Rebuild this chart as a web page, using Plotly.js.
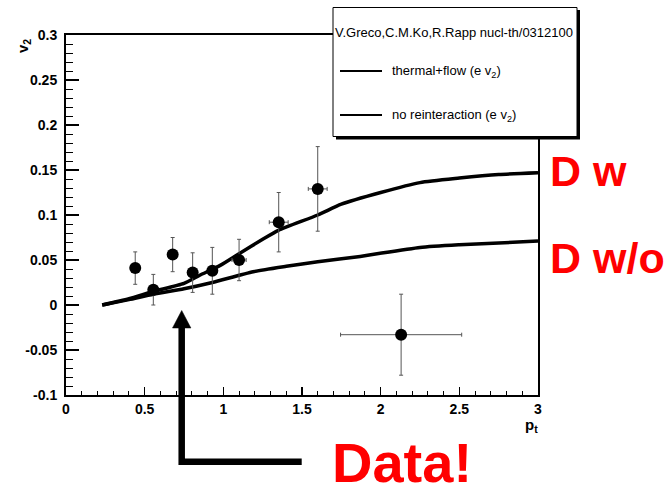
<!DOCTYPE html>
<html>
<head>
<meta charset="utf-8">
<script src="https://cdn.plot.ly/plotly-3.0.1.min.js"></script>
<style>html,body{margin:0;padding:0;background:#fff;}#chart{width:671px;height:491px;}</style>
</head>
<body>
<div id="chart"></div>
<script>
// ---- data ----
const dataPt = [0.44, 0.555, 0.678, 0.805, 0.93, 1.10, 1.352, 1.60, 2.13];
const dataV2 = [0.041, 0.017, 0.056, 0.036, 0.038, 0.050, 0.092, 0.129, -0.033];
const dataErrY = [0.018, 0.017, 0.019, 0.022, 0.026, 0.023, 0.033, 0.047, 0.045];
const dataErrX = [0, 0, 0, 0, 0, 0.045, 0.06, 0.06, 0.385];

const flowPt = [0.23, 0.40, 0.555, 0.75, 0.85, 0.98, 1.10, 1.25, 1.35, 1.60, 1.75, 2.00, 2.25, 2.50, 2.75, 3.00];
const flowV2 = [0.0, 0.007, 0.015, 0.024, 0.033, 0.044, 0.057, 0.073, 0.083, 0.100, 0.112, 0.125, 0.136, 0.141, 0.145, 0.147];

const noreintPt = [0.23, 0.40, 0.555, 0.75, 0.93, 1.19, 1.40, 1.60, 1.87, 2.25, 2.50, 3.00];
const noreintV2 = [0.0, 0.006, 0.012, 0.018, 0.025, 0.037, 0.043, 0.048, 0.054, 0.064, 0.067, 0.071];

const xTickVals = [0, 0.5, 1, 1.5, 2, 2.5, 3];
const xTickText = ["0", "0.5", "1", "1.5", "2", "2.5", "3"];
const yTickVals = [-0.1, -0.05, 0, 0.05, 0.1, 0.15, 0.2, 0.25, 0.3];
const yTickText = ["-0.1", "-0.05", "0", "0.05", "0.1", "0.15", "0.2", "0.25", "0.3"];

const legendHeader = "V.Greco,C.M.Ko,R.Rapp nucl-th/0312100";
const legendNames = ["thermal+flow (e v<sub>2</sub>)", "no reinteraction (e v<sub>2</sub>)"];
const sideLabels = ["D w", "D w/o"];
const bigLabel = "Data!";

// ---- layout helpers (pixel -> paper) ----
const M = {l: 66, r: 133, t: 35, b: 96};
const W = 671, H = 491;
const PW = W - M.l - M.r, PH = H - M.t - M.b;
const X = px => (px - M.l) / PW;
const Y = py => (H - M.b - py) / PH;

const FONT = 'Liberation Sans, Arial, Helvetica, sans-serif';
const tickFont = {family: FONT, size: 14, weight: 'bold', color: 'black'};

const traces = [
  {x: flowPt, y: flowV2, mode: 'lines', line: {color: 'black', width: 3.5, shape: 'spline', smoothing: 0.6}, name: 'flow', showlegend: false, hoverinfo: 'skip'},
  {x: noreintPt, y: noreintV2, mode: 'lines', line: {color: 'black', width: 3.5, shape: 'spline', smoothing: 0.6}, name: 'noreint', showlegend: false, hoverinfo: 'skip'},
  {x: dataPt, y: dataV2, mode: 'markers', marker: {color: 'black', size: 12},
   error_y: {type: 'data', array: dataErrY, visible: true, color: '#555', thickness: 1, width: 2},
   error_x: {type: 'data', array: dataErrX, visible: true, color: '#555', thickness: 1, width: 2},
   showlegend: false, name: 'data'}
];

const shapes = [
  // legend box shadow and box
  {type: 'rect', xref: 'paper', yref: 'paper', x0: X(336), x1: X(580), y0: Y(139.5), y1: Y(10), fillcolor: 'black', line: {width: 0}, layer: 'above'},
  {type: 'rect', xref: 'paper', yref: 'paper', x0: X(333), x1: X(577), y0: Y(136.5), y1: Y(7.5), fillcolor: 'white', line: {color: 'black', width: 1}, layer: 'above'},
  // legend line samples
  {type: 'line', xref: 'paper', yref: 'paper', x0: X(340), x1: X(382), y0: Y(71), y1: Y(71), line: {color: 'black', width: 2}, layer: 'above'},
  {type: 'line', xref: 'paper', yref: 'paper', x0: X(340), x1: X(382), y0: Y(115), y1: Y(115), line: {color: 'black', width: 2}, layer: 'above'},
  // L-shaped arrow
  {type: 'path', xref: 'paper', yref: 'paper',
   path: `M ${X(181.7)} ${Y(326)} L ${X(181.7)} ${Y(461.7)} L ${X(301.7)} ${Y(461.7)}`,
   line: {color: 'black', width: 6.5}, layer: 'above'},
  {type: 'path', xref: 'paper', yref: 'paper',
   path: `M ${X(181.7)} ${Y(310.5)} L ${X(172.5)} ${Y(328)} L ${X(190.9)} ${Y(328)} Z`,
   fillcolor: 'black', line: {color: 'black', width: 0.5}, layer: 'above'}
];

const annotations = [
  {xref: 'paper', yref: 'paper', x: X(333), y: Y(32), xanchor: 'left', yanchor: 'middle', showarrow: false,
   text: legendHeader, font: {family: FONT, size: 13, color: 'black'}},
  {xref: 'paper', yref: 'paper', x: X(390), y: Y(71), xanchor: 'left', yanchor: 'middle', showarrow: false,
   text: legendNames[0], font: {family: FONT, size: 13, color: 'black'}},
  {xref: 'paper', yref: 'paper', x: X(390), y: Y(115), xanchor: 'left', yanchor: 'middle', showarrow: false,
   text: legendNames[1], font: {family: FONT, size: 13, color: 'black'}},
  {xref: 'paper', yref: 'paper', x: X(548), y: Y(171), xanchor: 'left', yanchor: 'middle', showarrow: false,
   text: sideLabels[0], font: {family: FONT, size: 43, weight: 'bold', color: '#ff0000'}},
  {xref: 'paper', yref: 'paper', x: X(548), y: Y(258), xanchor: 'left', yanchor: 'middle', showarrow: false,
   text: sideLabels[1], font: {family: FONT, size: 43, weight: 'bold', color: '#ff0000'}},
  {xref: 'paper', yref: 'paper', x: X(330), y: Y(462), xanchor: 'left', yanchor: 'middle', showarrow: false,
   text: bigLabel, font: {family: FONT, size: 56, weight: 'bold', color: '#ff0000'}},
  {xref: 'paper', yref: 'paper', x: X(23), y: Y(46), xanchor: 'center', yanchor: 'middle', showarrow: false, textangle: -90,
   text: 'v<sub>2</sub>', font: {family: FONT, size: 15, weight: 'bold', color: 'black'}},
  {xref: 'paper', yref: 'paper', x: X(531), y: Y(425), xanchor: 'center', yanchor: 'middle', showarrow: false,
   text: 'p<sub>t</sub>', font: {family: FONT, size: 15, weight: 'bold', color: 'black'}}
];

const layout = {
  width: W, height: H,
  margin: M,
  paper_bgcolor: 'white', plot_bgcolor: 'white',
  showlegend: false,
  xaxis: {
    range: [0, 3], tickmode: 'array', tickvals: xTickVals, ticktext: xTickText,
    ticks: 'inside', ticklen: 8, tickwidth: 1.5, tickcolor: 'black',
    minor: {tickmode: 'linear', tick0: 0, dtick: 0.1, ticks: 'inside', ticklen: 4, tickwidth: 1, tickcolor: 'black', showgrid: false},
    showline: true, linecolor: 'black', linewidth: 2, mirror: true,
    showgrid: false, zeroline: false, tickfont: tickFont, automargin: false, fixedrange: true
  },
  yaxis: {
    range: [-0.1, 0.3], tickmode: 'array', tickvals: yTickVals, ticktext: yTickText,
    ticks: 'inside', ticklen: 13, tickwidth: 1.5, tickcolor: 'black',
    minor: {tickmode: 'linear', tick0: 0, dtick: 0.01, ticks: 'inside', ticklen: 7, tickwidth: 1, tickcolor: 'black', showgrid: false},
    showline: true, linecolor: 'black', linewidth: 2, mirror: true,
    showgrid: false, zeroline: false, tickfont: tickFont, automargin: false, fixedrange: true,
    ticklabelstandoff: 4
  },
  shapes: shapes,
  annotations: annotations
};

Plotly.newPlot('chart', traces, layout, {staticPlot: true, displayModeBar: false});
</script>
</body>
</html>
